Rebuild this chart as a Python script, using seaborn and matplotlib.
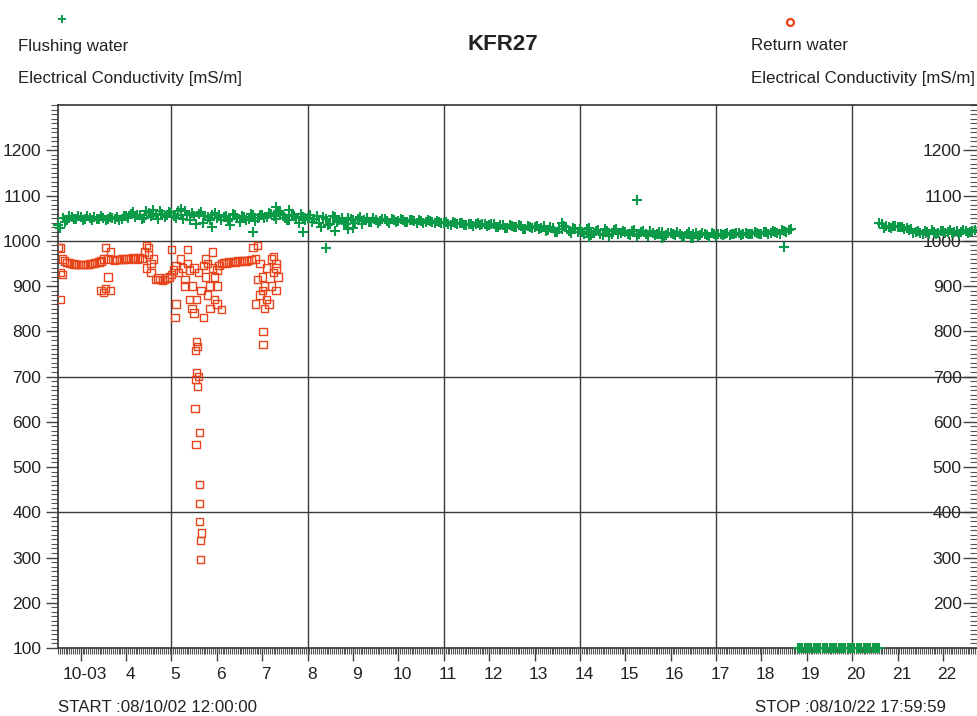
import matplotlib
matplotlib.use("Agg")
import matplotlib.pyplot as plt
import matplotlib.transforms as mtransforms
from matplotlib.lines import Line2D
from matplotlib.ticker import MultipleLocator, FixedLocator
import numpy as np
import pandas as pd
import seaborn as sns

# ---- data (day of October 2008, electrical conductivity mS/m) ----
STEP_FLUSH = 0.1    # sampling step of each flushing-water run, days
STEP_RETURN = 0.05  # sampling step of the return-water run, days

# flushing water, first period (two interleaved sample runs)
flush_start_1a = 2.5
flush_vals_1a = [
    1035, 1050, 1045, 1052, 1048,
    1052, 1048, 1050, 1053, 1049, 1051, 1047, 1050, 1052, 1049,
    1055, 1060, 1052, 1058, 1050, 1062, 1056, 1048, 1060, 1057,
    1062, 1050, 1058, 1065, 1045, 1055, 1060, 1040, 1052, 1058,
    1050, 1045, 1055, 1048, 1058, 1042, 1052, 1048, 1056, 1050,
    1058, 1052, 1060, 1048, 1062, 1050, 1045, 1055, 1040, 1052,
    1050, 1042, 1055, 1030, 1048, 1038, 1052, 1045, 1040, 1050,
    1045, 1048, 1038, 1050, 1042, 1046, 1044, 1049, 1040, 1046,
    1044, 1046, 1042, 1045, 1040, 1043, 1041, 1044, 1040, 1042,
    1040, 1038, 1041, 1036, 1039, 1035, 1038, 1036, 1034, 1037,
    1034, 1036, 1030, 1034, 1028, 1033, 1030, 1032, 1027, 1031,
    1030, 1026, 1032, 1024, 1029, 1020, 1027, 1030, 1018, 1026,
    1025, 1015, 1028, 1018, 1024, 1012, 1022, 1016, 1026, 1018,
    1020, 1012, 1024, 1015, 1022, 1010, 1018, 1014, 1020, 1012,
    1018, 1012, 1016, 1008, 1019, 1014, 1010, 1017, 1013, 1018,
    1010, 1014, 1016, 1013, 1015, 1017, 1014, 1016, 1015, 1018,
    1016, 1019, 1017, 1020, 1015, 1022, 1024,
]
flush_start_1b = 2.55
flush_vals_1b = [
    1028, 1042, 1055, 1047, 1054,
    1046, 1054, 1045, 1049, 1055, 1046, 1053, 1048, 1046, 1054,
    1050, 1064, 1058, 1048, 1066, 1054, 1060, 1065, 1052, 1063,
    1055, 1066, 1048, 1058, 1062, 1038, 1064, 1054, 1046, 1062,
    1058, 1052, 1044, 1060, 1050, 1055, 1046, 1060, 1044, 1058,
    1050, 1062, 1054, 1066, 1056, 1046, 1058, 1050, 1060, 1046,
    1056, 1048, 1040, 1052, 1035, 1055, 1042, 1050, 1036, 1048,
    1040, 1052, 1046, 1042, 1050, 1040, 1048, 1043, 1047, 1042,
    1047, 1041, 1046, 1043, 1045, 1039, 1046, 1042, 1043, 1039,
    1042, 1035, 1039, 1040, 1034, 1038, 1033, 1040, 1037, 1033,
    1037, 1031, 1035, 1029, 1035, 1030, 1034, 1027, 1033, 1029,
    1033, 1028, 1022, 1030, 1019, 1026, 1032, 1022, 1028, 1020,
    1020, 1026, 1012, 1022, 1016, 1026, 1010, 1024, 1014, 1022,
    1016, 1022, 1010, 1020, 1014, 1022, 1012, 1019, 1010, 1018,
    1014, 1020, 1010, 1016, 1006, 1018, 1012, 1015, 1008, 1016,
    1016, 1012, 1018, 1014, 1017, 1013, 1018, 1015, 1019, 1016,
    1020, 1015, 1021, 1018, 1023, 1020, 1026,
]
# flushing water, sensor reading at the floor of the scale
flush_start_2 = 18.8
flush_vals_2 = [100] * 37
FLOOR_STEP = 0.05
# flushing water, last period (two interleaved sample runs)
flush_start_3a = 20.6
flush_vals_3a = [
    1040, 1028, 1030, 1032, 1031, 1030, 1028, 1025, 1020, 1018, 1022,
    1015, 1020, 1018, 1022, 1020, 1017, 1021, 1019, 1022, 1020, 1023,
]
flush_start_3b = 20.65
flush_vals_3b = [
    1036, 1032, 1029, 1033, 1030, 1027, 1024, 1018, 1022, 1015, 1020,
    1024, 1016, 1021, 1018, 1024, 1019, 1015, 1023, 1018, 1021,
]
# flushing water, isolated readings
flush_extra_day = [15.25, 8.4, 18.5, 7.9, 6.8, 9.0, 5.9, 14.2, 16.5, 7.3, 4.6, 8.6,
                   5.2, 6.3, 7.6, 8.9, 13.6, 15.8]
flush_extra_val = [1090, 985, 987, 1020, 1020, 1028, 1030, 1008, 1005, 1075, 1068, 1022,
                   1070, 1035, 1068, 1025, 1040, 1005]

# return water, regular samples starting 2.5
ret_start = 2.5
ret_vals = [
    985, 984, 960, 955, 952, 951, 950, 949, 948, 948,
    947, 948, 947, 948, 949, 950, 951, 952, 953, 955,
    960, 985, 920, 890, 958, 957, 958, 959, 960, 960,
    961, 960, 961, 962, 961, 960, 962, 961, 975, 940,
    985, 930, 960, 915, 918, 915, 912, 915, 918, 920,
    925, 935, 945, 930, 960, 940, 915, 950, 935, 900,
    940, 870, 930, 890, 945, 920, 950, 900, 940, 870,
    935, 945, 950, 952, 951, 953, 952, 954, 953, 955,
    954, 955, 956, 955, 957, 958, 985, 960, 915, 880,
    920, 900, 940, 860, 960, 930, 950, 920,
]
# return water, scattered readings
ret_extra_day = [2.55, 2.6, 2.55, 3.45, 3.5, 3.55, 3.6, 3.65, 4.45, 4.5, 4.55,
                 5.0, 5.1, 5.08, 5.3, 5.35, 5.4, 5.45, 5.5,
                 5.55, 5.57, 5.53, 5.55, 5.6, 5.53, 5.58, 5.52, 5.62, 5.54,
                 5.62, 5.62, 5.62, 5.66, 5.64, 5.64,
                 5.7, 5.75, 5.8, 5.85, 5.9, 5.95, 6.0, 6.0, 6.1,
                 6.9, 6.95, 7.0, 7.05, 7.1, 7.02, 7.02, 7.2, 7.25, 7.3, 7.3, 6.85]
ret_extra_val = [930, 925, 870, 890, 885, 895, 960, 975, 990, 970, 950,
                 980, 860, 830, 900, 980, 870, 850, 840,
                 777, 766, 757, 709, 700, 693, 678, 629, 576, 550,
                 462, 420, 380, 354, 338, 296,
                 830, 960, 880, 850, 975, 920, 860, 900, 848,
                 990, 950, 890, 850, 870, 800, 770, 900, 965, 890, 940, 860]

day_ticks = list(range(3, 23))
day_labels = ["10-03"] + [str(d) for d in range(4, 23)]
grid_days = [5, 8, 11, 14, 17, 20]
grid_vals = [400, 700, 1000]


def run(start, step, vals):
    return pd.DataFrame({"day": start + step * np.arange(len(vals)), "ec": vals})


flush = pd.concat([
    run(flush_start_1a, STEP_FLUSH, flush_vals_1a),
    run(flush_start_1b, STEP_FLUSH, flush_vals_1b),
    run(flush_start_2, FLOOR_STEP, flush_vals_2),
    run(flush_start_3a, STEP_FLUSH, flush_vals_3a),
    run(flush_start_3b, STEP_FLUSH, flush_vals_3b),
    pd.DataFrame({"day": flush_extra_day, "ec": flush_extra_val}),
], ignore_index=True)
ret = pd.concat([
    run(ret_start, STEP_RETURN, ret_vals),
    pd.DataFrame({"day": ret_extra_day, "ec": ret_extra_val}),
], ignore_index=True)

GREEN = "#0a9a48"
RED = "#e8441c"
TXT = "#222222"
GRID = "#3a3a3a"

sns.set_theme(style="white")
plt.rcParams["font.family"] = ["Liberation Sans", "DejaVu Sans"]

fig = plt.figure(figsize=(9.78, 7.16), dpi=100)
ax = fig.add_axes([58 / 978, (716 - 648) / 716, (977 - 58) / 978, (648 - 105) / 716])
ax2 = ax.twinx()
ax.set_zorder(ax2.get_zorder() + 1)
ax.patch.set_visible(False)

for d in grid_days:
    ax.axvline(d, color=GRID, lw=1, zorder=1)
for v in grid_vals:
    ax.axhline(v, color=GRID, lw=1, zorder=1)

sns.scatterplot(data=ret, x="day", y="ec", ax=ax, marker="s", s=28,
                color=RED, facecolor="none", edgecolor=RED, linewidth=1, zorder=3)
sns.scatterplot(data=flush, x="day", y="ec", ax=ax, marker="+", s=55,
                color=GREEN, linewidth=1.5, zorder=4, clip_on=False)

ax.set_xlim(2.5, 22.75)
ax.set_ylim(100, 1300)
ax.set_xlabel("")
ax.set_ylabel("")

ax.xaxis.set_major_locator(FixedLocator(day_ticks))
ax.set_xticklabels(day_labels)
ax.xaxis.set_minor_locator(MultipleLocator(1 / 24))
ax.yaxis.set_major_locator(FixedLocator(list(range(100, 1300, 100))))
ax.yaxis.set_minor_locator(MultipleLocator(10))
ax.tick_params(axis="x", which="major", direction="out", length=9, width=1,
               color="#444444", labelsize=12.5, labelcolor=TXT, pad=5, bottom=True)
ax.tick_params(axis="x", which="minor", direction="out", length=4, width=0.8,
               color="#555555", bottom=True)
ax.tick_params(axis="y", which="major", direction="out", length=9, width=1,
               color="#444444", labelsize=12.5, labelcolor=TXT, pad=3, left=True)
ax.tick_params(axis="y", which="minor", direction="out", length=5, width=0.8,
               color="#555555", left=True)

offset = mtransforms.ScaledTranslation(0.04, 0, fig.dpi_scale_trans)
for lbl in ax.get_xticklabels():
    lbl.set_transform(lbl.get_transform() + offset)

ax2.set_ylim(100, 1300)
ax2.yaxis.set_major_locator(FixedLocator(list(range(200, 1300, 100))))
ax2.yaxis.set_minor_locator(MultipleLocator(10))
ax2.tick_params(axis="y", which="major", direction="in", length=10, width=1,
                color="#444444", labelsize=12.5, labelcolor=TXT, pad=-11,
                right=True, labelright=True)
ax2.tick_params(axis="y", which="minor", direction="in", length=5, width=0.8,
                color="#555555", right=True)
for t in ax2.yaxis.get_major_ticks():
    t.label2.set_horizontalalignment("right")
ax2.grid(False)

for a in (ax, ax2):
    for side, sp in a.spines.items():
        sp.set_color("#333333")
        sp.set_linewidth(1.2)
    a.spines["right"].set_visible(False)
ax2.spines["left"].set_visible(False)
ax2.spines["bottom"].set_visible(False)
ax2.spines["top"].set_visible(False)

# header and footer
HS = 12.2
fig.text(0.5143, 1 - 45 / 716, "KFR27", ha="center", va="center",
         fontsize=16, fontweight="bold", color=TXT)
fig.text(18 / 978, 1 - 46 / 716, "Flushing water", ha="left", va="center",
         fontsize=HS, color=TXT)
fig.text(18 / 978, 1 - 79 / 716, "Electrical Conductivity [mS/m]", ha="left",
         va="center", fontsize=HS, color=TXT)
fig.text(751 / 978, 1 - 45 / 716, "Return water", ha="left", va="center",
         fontsize=HS, color=TXT)
fig.text(751 / 978, 1 - 78 / 716, "Electrical Conductivity [mS/m]", ha="left",
         va="center", fontsize=HS, color=TXT)
fig.add_artist(Line2D([62 / 978], [1 - 19 / 716], marker="+", color=GREEN,
                      markersize=6, markeredgewidth=1.4, transform=fig.transFigure))
fig.add_artist(Line2D([790 / 978], [1 - 22 / 716], marker="o", color=RED,
                      markerfacecolor="none", markersize=5, markeredgewidth=1.6,
                      transform=fig.transFigure))
fig.text(58 / 978, 1 - 708 / 716, "START :08/10/02 12:00:00", ha="left",
         va="center", fontsize=HS, color=TXT)
fig.text(755 / 978, 1 - 708 / 716, "STOP :08/10/22 17:59:59", ha="left",
         va="center", fontsize=HS, color=TXT)

fig.savefig("out.png", dpi=100, facecolor="white")
